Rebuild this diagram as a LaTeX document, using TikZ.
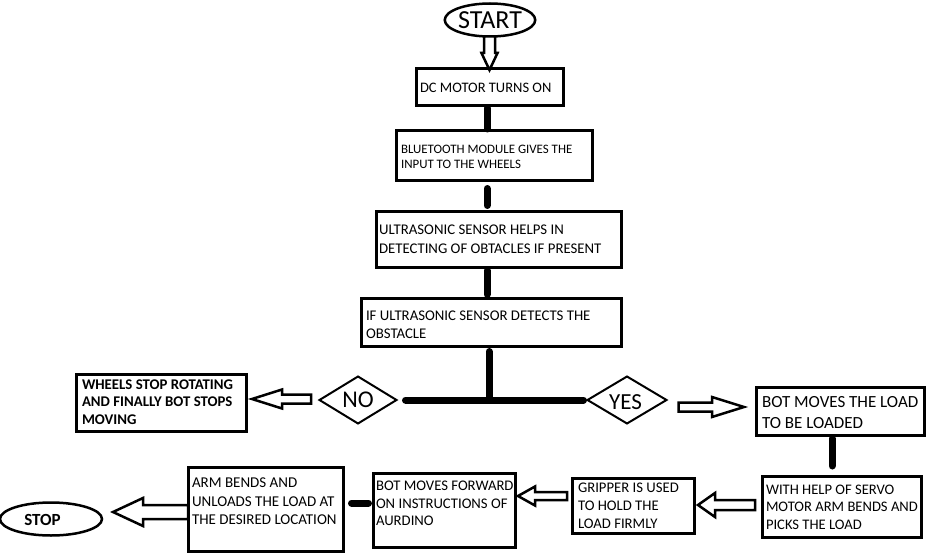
\documentclass[tikz,border=0pt]{standalone}
\usepackage{fontspec}
\setmainfont{Carlito}
\usetikzlibrary{shapes.geometric,calc}
\newcommand\fs[2]{\fontsize{#1}{#2}\selectfont}
% hollow horizontal arrow: tip, tail, shaft half, head half, signed head length
\newcommand\harr[5]{\draw[hollow] let \p1=#1, \p2=#2 in
  (\x1,\y1) -- ({\x1+(#5pt)},{\y1+#4pt}) -- ({\x1+(#5pt)},{\y1+#3pt}) -- (\x2,{\y1+#3pt})
  -- (\x2,{\y1-#3pt}) -- ({\x1+(#5pt)},{\y1-#3pt}) -- ({\x1+(#5pt)},{\y1-#4pt}) -- cycle;}
% hollow downward arrow
\newcommand\varr[5]{\draw[hollow] let \p1=#1, \p2=#2 in
  (\x1,\y1) -- ({\x1+#4pt},{\y1+#5pt}) -- ({\x1+#3pt},{\y1+#5pt}) -- ({\x1+#3pt},\y2)
  -- ({\x1-#3pt},\y2) -- ({\x1-#3pt},{\y1+#5pt}) -- ({\x1-#4pt},{\y1+#5pt}) -- cycle;}
\begin{document}
\begin{tikzpicture}[x=1pt,y=-1pt,
  box/.style={draw,line width=3pt,inner sep=0pt,outer sep=0pt},
  oval/.style={ellipse,draw,line width=2.5pt,inner sep=0pt,outer sep=0pt},
  dia/.style={diamond,draw,line width=2pt,inner sep=0pt,outer sep=0pt,aspect=1.6},
  txt/.style={anchor=north west,inner sep=0pt,outer sep=0pt,align=left},
  link/.style={line width=7pt,line cap=round},
  hollow/.style={draw,line width=2.5pt,fill=white,line join=miter}]
\useasboundingbox[fill=white] (0,0) rectangle (931,559);

% nodes
\node[oval,minimum width=84pt,minimum height=33pt] (start) at (490,20) {\fs{26}{30}START};
\node[box,minimum width=147pt,minimum height=37pt] (dc) at (489.5,87.5) {};
\node[box,minimum width=196pt,minimum height=49pt] (bt) at (494,155.5) {};
\node[box,minimum width=245pt,minimum height=56pt] (us) at (498.5,239) {};
\node[box,minimum width=260pt,minimum height=48pt] (iff) at (491,322) {};
\node[dia,minimum width=77pt,minimum height=47pt] (no) at (358,400) {\fs{24}{26}NO};
\node[dia,minimum width=79pt,minimum height=47pt] (yes) at (627,400) {};
\node[box,minimum width=170pt,minimum height=57pt] (wheels) at (161,402.5) {};
\node[box,minimum width=168pt,minimum height=48pt] (load) at (840,411) {};
\node[box,minimum width=159pt,minimum height=61pt] (with) at (841.5,506.5) {};
\node[box,minimum width=122pt,minimum height=55pt] (grip) at (633,505.5) {};
\node[box,minimum width=142pt,minimum height=74pt] (fwd) at (444,510) {};
\node[box,minimum width=155pt,minimum height=84pt] (arm) at (265.5,509) {};
\node[oval,minimum width=102pt,minimum height=33pt] (stop) at (51,519) {};

% texts
\node[inner sep=0pt,font=\fs{23}{26}] (yest) at ($(yes.center)+(-1.5,2)$) {YES};
\node[inner sep=0pt,font=\fs{17}{20}\bfseries] (stopt) at ($(stop.center)+(-8.5,1)$) {STOP};
\node[txt,font=\fs{14.5}{18}] (dct) at ($(dc.north west)+(4,14)$) {DC MOTOR TURNS ON};
\node[txt,font=\fs{12.9}{15}] (btt) at ($(bt.north west)+(5,14)$) {BLUETOOTH MODULE GIVES THE\\INPUT TO THE WHEELS};
\node[txt,font=\fs{14.8}{18.5}] (ust) at ($(us.north west)+(3,14)$) {ULTRASONIC SENSOR HELPS IN\\DETECTING OF OBTACLES IF PRESENT};
\node[txt,font=\fs{14.8}{17.7}] (ifft) at ($(iff.north west)+(5,13)$) {IF ULTRASONIC SENSOR DETECTS THE\\OBSTACLE};
\node[txt,font=\fs{14.8}{17.7}\bfseries] (wheelst) at ($(wheels.north west)+(6,5.5)$) {WHEELS STOP ROTATING\\AND FINALLY BOT STOPS\\MOVING};
\node[txt,font=\fs{17}{21}] (loadt) at ($(load.north west)+(6,9)$) {BOT MOVES THE LOAD\\TO BE LOADED};
\node[txt,font=\fs{14.6}{17.5}] (witht) at ($(with.north west)+(4,9)$) {WITH HELP OF SERVO\\MOTOR ARM BENDS AND\\PICKS THE LOAD};
\node[txt,font=\fs{14.7}{18}] (gript) at ($(grip.north west)+(6,5)$) {GRIPPER IS USED\\TO HOLD THE\\LOAD FIRMLY};
\node[txt,font=\fs{14.7}{17.7}] (fwdt) at ($(fwd.north west)+(3,8)$) {BOT MOVES FORWARD\\ON INSTRUCTIONS OF\\AURDINO};
\node[txt,font=\fs{15}{18.3}] (armt) at ($(arm.north west)+(4,11)$) {ARM BENDS AND\\UNLOADS THE LOAD AT\\THE DESIRED LOCATION};

% thick links
\coordinate (col) at (487,0);
\coordinate (jn) at (489,400);
\coordinate (col2) at (832,0);
\draw[link,shorten <=2pt,shorten >=2pt] (dc.south -| col) -- (bt.north -| col);
\draw[link,shorten <=8.5pt,shorten >=5.5pt] (bt.south -| col) -- (us.north -| col);
\draw[link,shorten <=3.5pt,shorten >=3.5pt] (us.south -| col) -- (iff.north -| col);
\draw[link,shorten <=5.5pt] (iff.south -| jn) -- (jn);
\draw[link,shorten <=9pt,shorten >=4pt] (no.east) -- (yes.west);
\draw[link,shorten <=3.5pt,shorten >=10pt] (load.south -| col2) -- (with.north -| col2);
\coordinate (af) at ($(arm.east)+(0,-6)$);
\draw[link,shorten <=8.5pt,shorten >=4.5pt] (af) -- (af -| fwd.west);

% hollow arrows
\coordinate (s1) at ($(dc.north)+(0,1)$);
\varr{(s1)}{(start.south)}{5.5}{8}{17}
\coordinate (n2) at ($(no.west)+(-8.5,-1)$);
\coordinate (n1) at ($(wheels.east |- n2)+(6,0)$);
\harr{(n1)}{(n2)}{4.5}{9.5}{30}
\coordinate (y2) at ($(yes.east)+(12,7)$);
\coordinate (y1) at ($(load.west |- y2)+(-12,0)$);
\harr{(y1)}{(y2)}{4.5}{10}{-32}
\coordinate (w2) at ($(with.west)+(-7,-1.5)$);
\coordinate (w1) at ($(grip.east |- w2)+(4,0)$);
\harr{(w1)}{(w2)}{5}{12}{17}
\coordinate (g2) at ($(grip.west)+(-5,-9.5)$);
\coordinate (g1) at ($(fwd.east |- g2)+(3,0)$);
\harr{(g1)}{(g2)}{4}{9.5}{17}
\coordinate (a2) at ($(arm.west)+(0,3)$);
\coordinate (a1) at ($(stop.east |- a2)+(11,0)$);
\harr{(a1)}{(a2)}{7}{14}{30}
\end{tikzpicture}
\end{document}
